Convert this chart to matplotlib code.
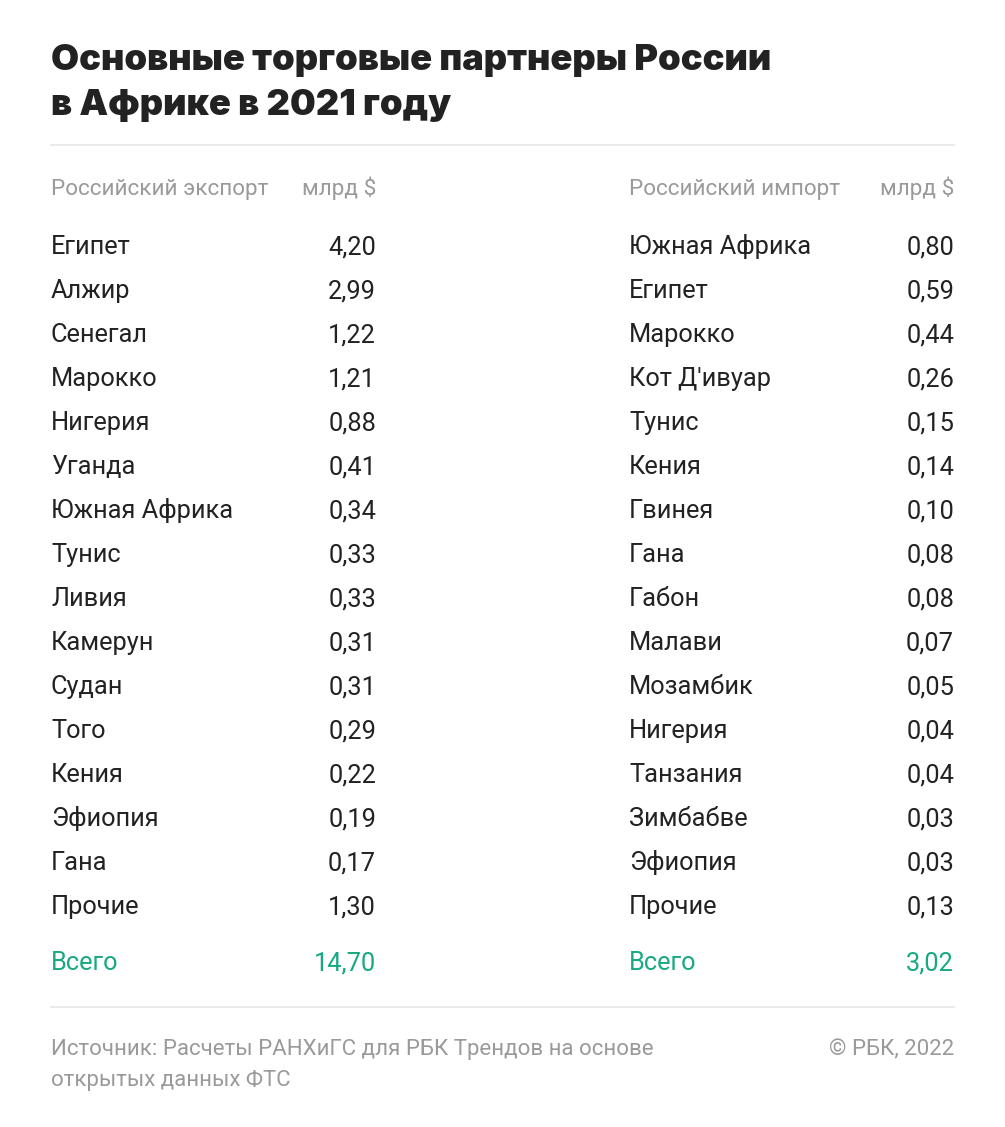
import matplotlib.pyplot as plt

export_countries = ['Египет', 'Алжир', 'Сенегал', 'Марокко', 'Нигерия', 'Уганда',
                    'Южная Африка', 'Тунис', 'Ливия', 'Камерун', 'Судан', 'Того',
                    'Кения', 'Эфиопия', 'Гана', 'Прочие']
export_values = [4.20, 2.99, 1.22, 1.21, 0.88, 0.41, 0.34, 0.33, 0.33, 0.31, 0.31,
                 0.29, 0.22, 0.19, 0.17, 1.30]
export_total = 14.70

import_countries = ['Южная Африка', 'Египет', 'Марокко', "Кот Д'ивуар", 'Тунис', 'Кения',
                    'Гвинея', 'Гана', 'Габон', 'Малави', 'Мозамбик', 'Нигерия',
                    'Танзания', 'Зимбабве', 'Эфиопия', 'Прочие']
import_values = [0.80, 0.59, 0.44, 0.26, 0.15, 0.14, 0.10, 0.08, 0.08, 0.07, 0.05,
                 0.04, 0.04, 0.03, 0.03, 0.13]
import_total = 3.02

title_lines = ['Основные торговые партнеры России', 'в Африке в 2021 году']
source_lines = ['Источник: Расчеты РАНХиГС для РБК Трендов на основе',
                'открытых данных ФТС']

DARK = '#222222'
GRAY = '#9a9a9a'
GREEN = '#17a982'
BODY = 'Roboto'


def fmt(v):
    return f'{v:.2f}'.replace('.', ',')


fig = plt.figure(figsize=(10.05, 11.27), dpi=100)
ax = fig.add_axes([0, 0, 1, 1])
ax.set_xlim(0, 1005)
ax.set_ylim(1127, 0)
ax.axis('off')

for i, line in enumerate(title_lines):
    ax.text(51, 70 + i * 45, line, fontsize=26.1, fontweight='black', family='Inter',
            color=DARK, va='baseline')

ax.plot([51, 954], [145, 145], color='#e6e6e6', lw=1.2)
ax.plot([51, 954], [1007, 1007], color='#e6e6e6', lw=1.2)

cols = [(51, 376, 'Российский экспорт', export_countries, export_values, export_total),
        (629, 954, 'Российский импорт', import_countries, import_values, import_total)]

for xl, xr, head, names, vals, total in cols:
    ax.text(xl, 195, head, fontsize=16.2, family=BODY, color=GRAY, va='baseline')
    ax.text(xr, 195, 'млрд $', fontsize=16.2, family=BODY, color=GRAY, va='baseline', ha='right')
    for i, (n, v) in enumerate(zip(names, vals)):
        y = 254 + i * 44
        ax.text(xl, y, n, fontsize=18.3, family=BODY, color=DARK, va='baseline')
        ax.text(xr, y, fmt(v), fontsize=18.3, family=BODY, color=DARK, va='baseline', ha='right')
    ax.text(xl, 970, 'Всего', fontsize=18.3, family=BODY, color=GREEN, va='baseline')
    ax.text(xr, 970, fmt(total), fontsize=18.3, family=BODY, color=GREEN, va='baseline', ha='right')

for i, line in enumerate(source_lines):
    ax.text(51, 1055 + i * 31, line, fontsize=16, family=BODY, color=GRAY, va='baseline')
ax.text(954, 1055, '© РБК, 2022', fontsize=16, family=BODY, color=GRAY, va='baseline', ha='right')

fig.savefig('out.png', dpi=100, facecolor='white')
